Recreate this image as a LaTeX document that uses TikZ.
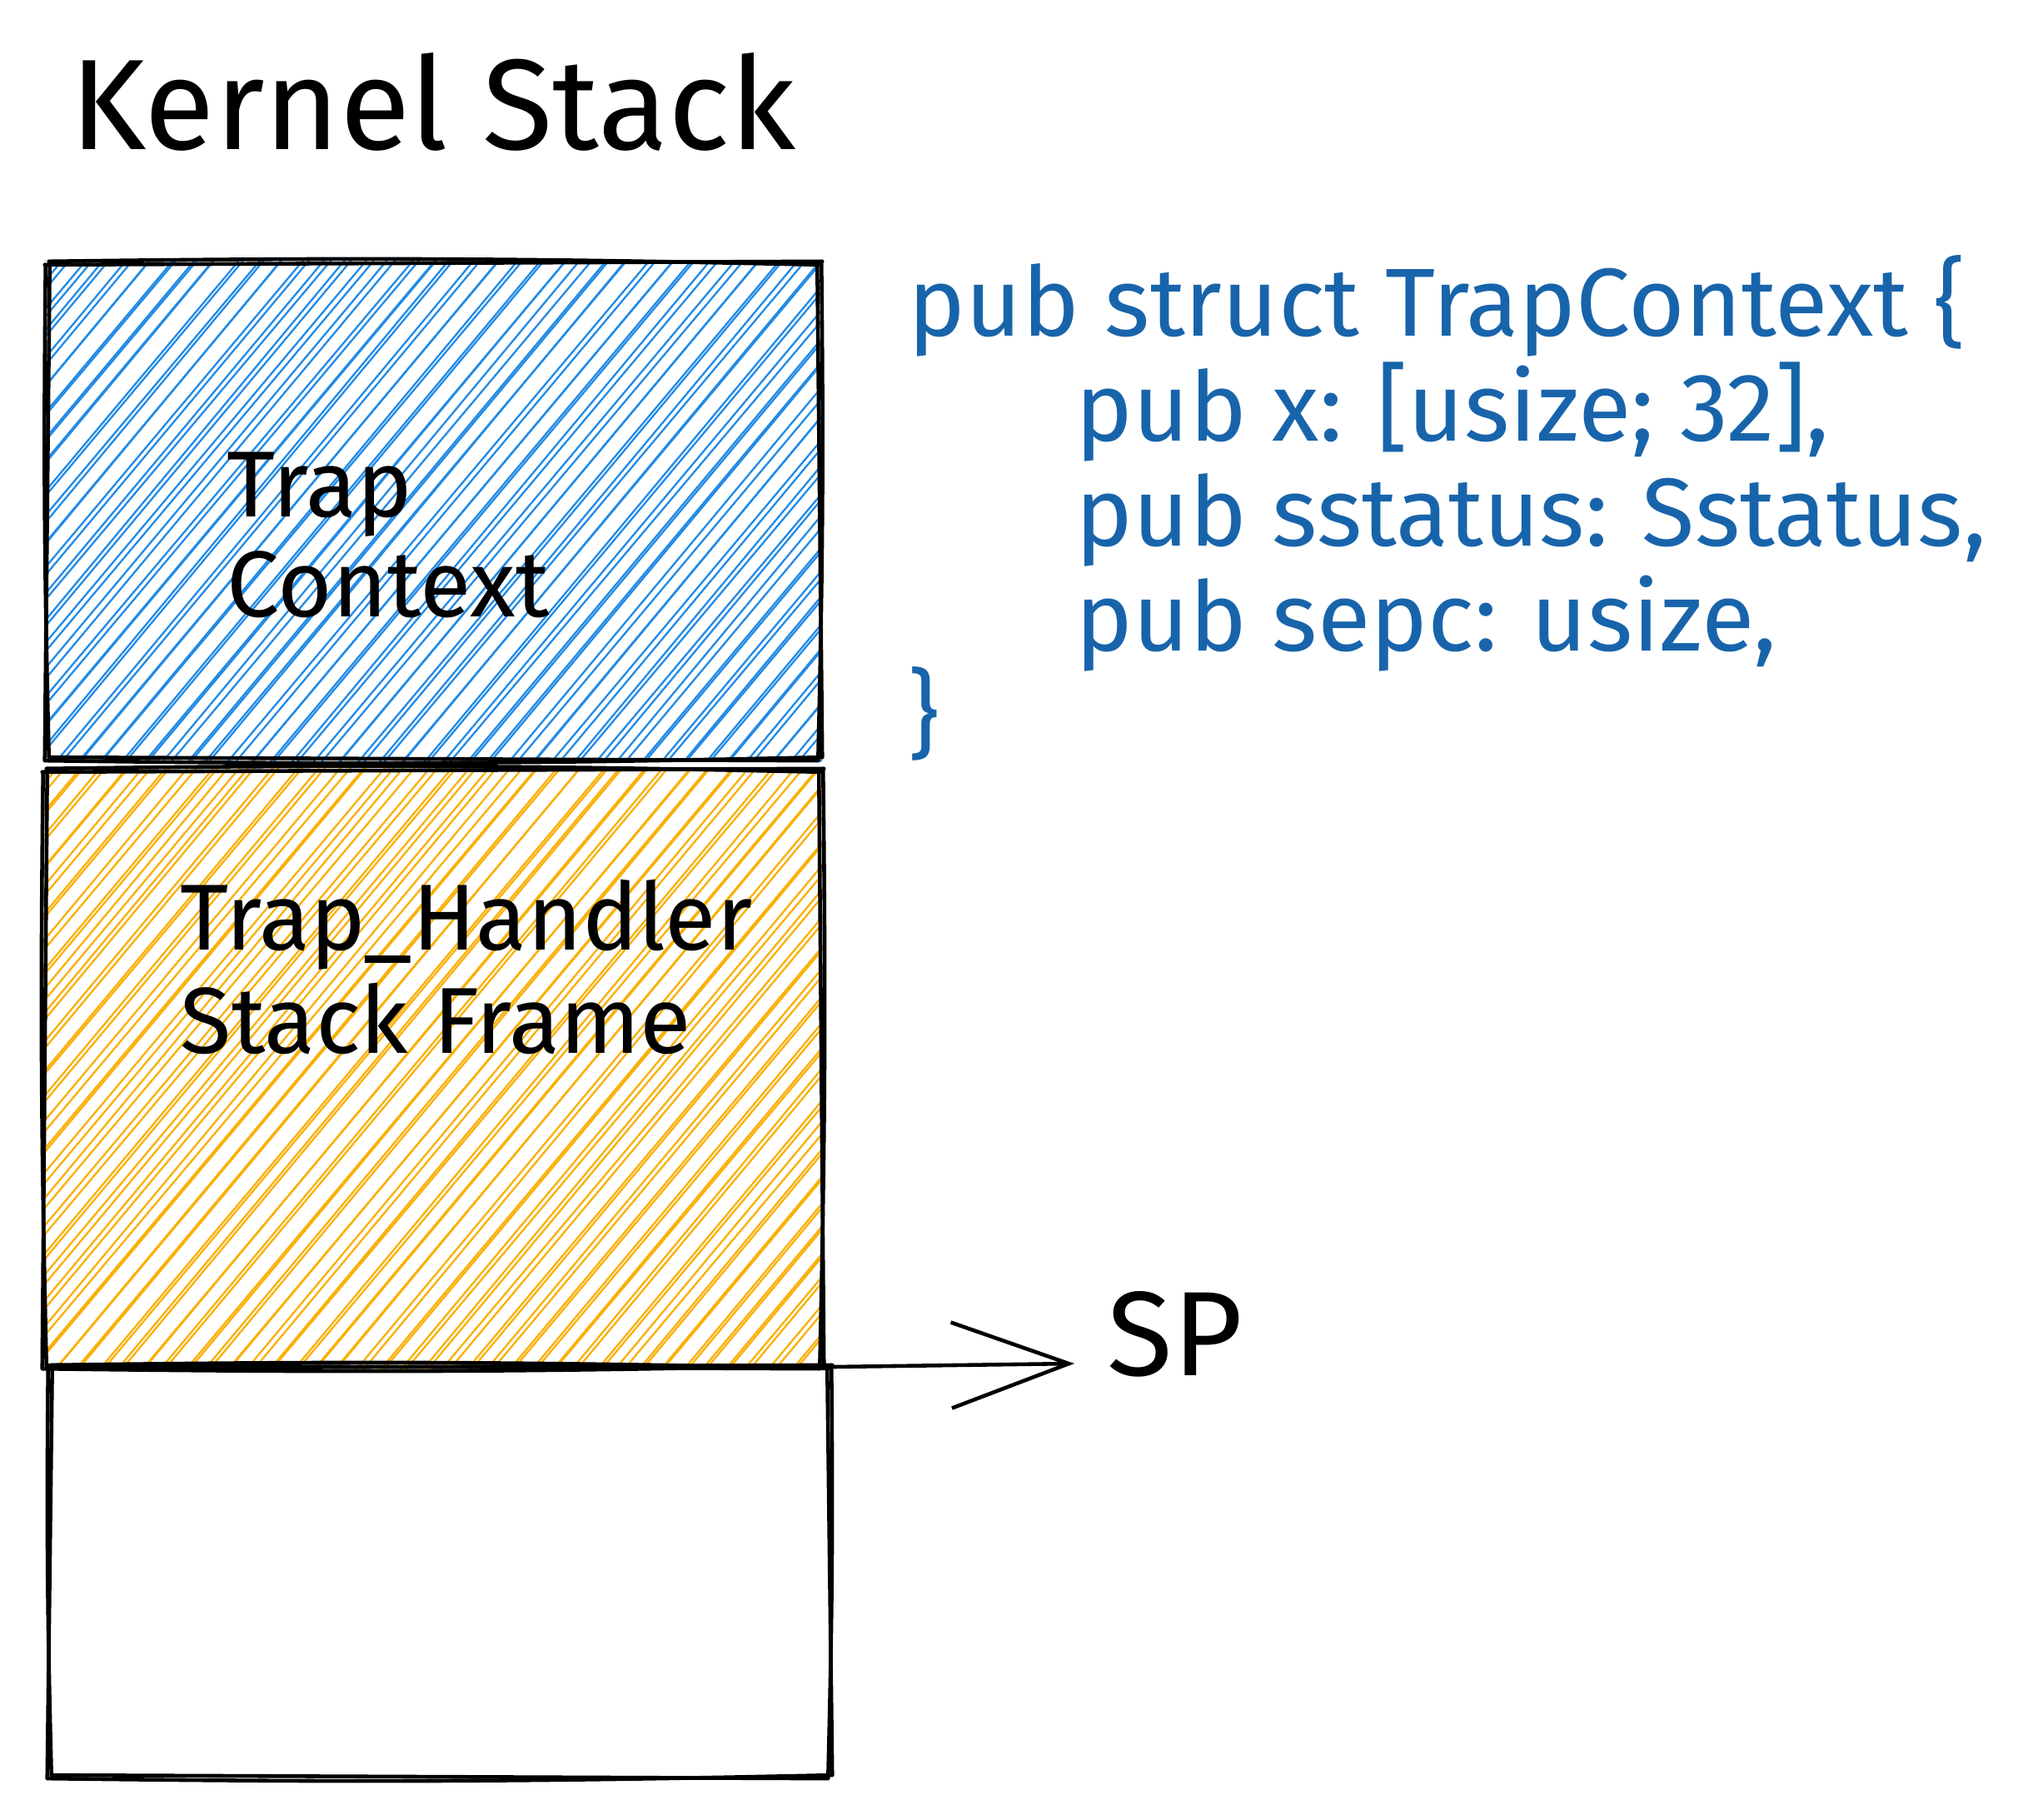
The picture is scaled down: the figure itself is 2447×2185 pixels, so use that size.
\documentclass[tikz,border=0pt]{standalone}
\usepackage{fontspec}
\setmainfont{Fira Sans}
\usetikzlibrary{arrows.meta,calc}
\definecolor{hblue}{HTML}{228BE6}
\definecolor{horange}{HTML}{FAB005}
\definecolor{codeblue}{HTML}{1864AB}
\tikzset{
  stackbox/.style={rectangle, inner sep=0pt, outer sep=0pt, draw=none},
  sk/.style={line width=1.3pt, line cap=round, line join=round, black},
  hatchline/.style={line width=0.65pt, line cap=round},
  boxlabel/.style={anchor=base west, inner sep=0pt, font=\fontsize{32}{35}\selectfont},
  codeline/.style={anchor=base west, inner sep=0pt, text=codeblue, font=\fontsize{33}{36}\selectfont},
  titletext/.style={anchor=base west, inner sep=0pt, font=\fontsize{44}{48}\selectfont},
}
\newcommand\hatchnode[3]{%
  \pgfmathsetseed{#3}%
  \begin{scope}
    \clip ($(#1.north west)+(-3,-3)$) rectangle ($(#1.south east)+(3,3)$);
    \path (#1.north west) coordinate (hA) (#1.south east) coordinate (hB);
    \foreach \k in {0,...,66} {
      \draw[hatchline, #2] ($(hA |- hB)+(\k*26-720+3*rand, 6)$) -- ++(720+5*rand, -860);
      \draw[hatchline, #2] ($(hA |- hB)+(\k*26-715+4*rand, 6)$) -- ++(720+5*rand, -860);
    }
  \end{scope}}
\newcommand\skedge[2]{%
  \draw[sk] ($#1+(-3,2)$) -- ($#2+(3,-2)$);
  \draw[sk] ($#1+(2,-2)$) to[bend left=1] ($#2+(-2,2)$);}
\newcommand\sketchbox[1]{%
  \skedge{(#1.north west)}{(#1.north east)}
  \skedge{(#1.north east)}{(#1.south east)}
  \skedge{(#1.south east)}{(#1.south west)}
  \skedge{(#1.south west)}{(#1.north west)}}
\begin{document}
\begin{tikzpicture}[x=0.01cm,y=-0.01cm]
\useasboundingbox (0,0) rectangle (2447,2185);
\fill[white] (0,0) rectangle (2447,2185);

% title
\node[titletext] (title) at (84,180) {Kernel Stack};

% boxes
\node[stackbox, minimum width=9.27cm, minimum height=5.95cm] (tc) at (520.5,613.5) {};
\node[stackbox, minimum width=9.32cm, minimum height=7.16cm] (th) at (520,1283) {};
\node[stackbox, minimum width=9.36cm, minimum height=4.92cm] (free) at (528,1887) {};

\hatchnode{tc}{hblue}{11}
\hatchnode{th}{horange}{23}

\sketchbox{tc}
\sketchbox{th}
\sketchbox{free}

% box labels
\node[boxlabel] (tc1) at (272,620) {Trap};
\node[boxlabel] (tc2) at (272,740) {Context};
\node[boxlabel] (th1) at (216,1140) {Trap\_Handler};
\node[boxlabel] (th2) at (216,1264) {Stack Frame};

% code
\node[codeline] (c1) at (1090,404) {pub struct TrapContext \{};
\node[codeline] (c2) at (1291,529) {pub x: [usize; 32],};
\node[codeline] (c3) at (1291,656) {pub sstatus: Sstatus,};
\node[codeline] (c4) at (1291,781) {pub sepc: usize,};
\node[codeline] (c5) at (1090,897) {\}};

% SP pointer
\node[titletext, font=\fontsize{41}{45}\selectfont] (sp) at (1329,1651) {SP};
\draw[sk, -{Straight Barb[length=1.41cm, width=1.03cm]}] (th.south east) -- ($(sp.base west)+(-39,-14)$);
\end{tikzpicture}
\end{document}
